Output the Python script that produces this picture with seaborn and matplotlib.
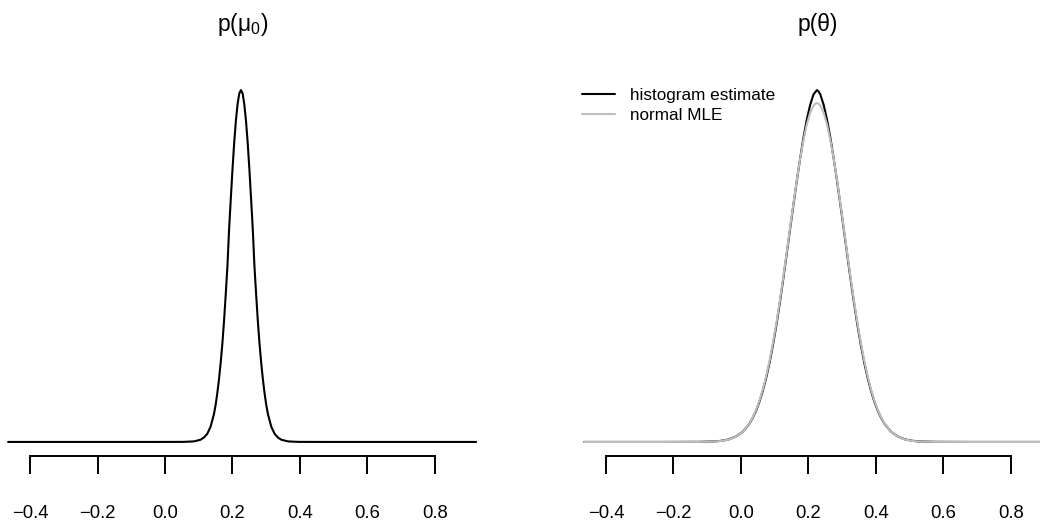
import matplotlib
matplotlib.use("Agg")
import matplotlib.pyplot as plt
import seaborn as sns

# p(mu0) density
mu0_x = [-0.465, -0.025, 0.055, 0.085, 0.105, 0.115, 0.125, 0.135, 0.145, 0.150,
         0.155, 0.160, 0.165, 0.170, 0.175, 0.180, 0.185, 0.190, 0.195, 0.200,
         0.205, 0.210, 0.215, 0.220, 0.225, 0.230, 0.235, 0.240, 0.245, 0.250,
         0.255, 0.260, 0.265, 0.270, 0.275, 0.280, 0.285, 0.290, 0.295, 0.300,
         0.305, 0.315, 0.325, 0.335, 0.345, 0.365, 0.395, 0.475, 0.922]
mu0_dens = [0, 0, 0.002, 0.017, 0.07, 0.14, 0.26, 0.49, 0.90, 1.20,
            1.58, 2.03, 2.57, 3.19, 3.93, 4.79, 5.70, 6.91, 7.89, 8.84,
            9.69, 10.40, 10.94, 11.29, 11.40, 11.29, 10.94, 10.40, 9.69, 8.84,
            7.89, 6.91, 5.70, 4.79, 3.93, 3.19, 2.57, 2.03, 1.58, 1.20,
            0.90, 0.49, 0.26, 0.14, 0.07, 0.017, 0.002, 0, 0]

# p(theta): histogram estimate (black) and normal MLE (grey)
theta_x = [-0.465, -0.225, -0.125, -0.075, -0.055, -0.035, -0.015, 0.005, 0.025, 0.035,
           0.045, 0.055, 0.065, 0.075, 0.085, 0.095, 0.105, 0.115, 0.125, 0.135,
           0.145, 0.155, 0.165, 0.175, 0.185, 0.195, 0.205, 0.215, 0.220, 0.225,
           0.230, 0.235, 0.245, 0.255, 0.265, 0.275, 0.285, 0.295, 0.305, 0.315,
           0.325, 0.335, 0.345, 0.355, 0.365, 0.375, 0.385, 0.395, 0.405, 0.415,
           0.425, 0.445, 0.465, 0.485, 0.505, 0.525, 0.575, 0.675, 0.922]
hist_dens = [0, 0, 0.0015, 0.008, 0.018, 0.038, 0.076, 0.143, 0.259, 0.343,
             0.447, 0.575, 0.73, 0.915, 1.13, 1.38, 1.66, 1.97, 2.30, 2.65,
             3.00, 3.35, 3.69, 4.01, 4.31, 4.57, 4.78, 4.93, 4.96, 4.99,
             4.97, 4.93, 4.78, 4.57, 4.31, 4.01, 3.69, 3.35, 3.00, 2.65,
             2.30, 1.97, 1.66, 1.38, 1.13, 0.915, 0.73, 0.575, 0.447, 0.343,
             0.259, 0.143, 0.076, 0.038, 0.018, 0.008, 0.0015, 0, 0]
mle_dens = [0, 0, 0.001, 0.007, 0.016, 0.036, 0.074, 0.143, 0.263, 0.350,
            0.458, 0.590, 0.750, 0.939, 1.159, 1.410, 1.690, 1.997, 2.326, 2.670,
            3.021, 3.368, 3.701, 4.008, 4.277, 4.502, 4.669, 4.771, 4.797, 4.806,
            4.797, 4.771, 4.669, 4.502, 4.277, 4.008, 3.701, 3.368, 3.021, 2.670,
            2.326, 1.997, 1.690, 1.410, 1.159, 0.939, 0.750, 0.590, 0.458, 0.350,
            0.263, 0.143, 0.074, 0.036, 0.016, 0.007, 0.001, 0, 0]

ticks = [-0.4, -0.2, 0.0, 0.2, 0.4, 0.6, 0.8]
tick_labels = ["\u22120.4", "\u22120.2", "0.0", "0.2", "0.4", "0.6", "0.8"]

sns.set_style("white")
plt.rcParams["font.family"] = ["Liberation Sans", "DejaVu Sans"]
plt.rcParams["mathtext.fontset"] = "custom"
plt.rcParams["mathtext.rm"] = "Liberation Sans"
plt.rcParams["mathtext.it"] = "Liberation Sans"
plt.rcParams["mathtext.bf"] = "Liberation Sans:bold"
plt.rcParams["text.color"] = "black"

fig = plt.figure(figsize=(10.4, 5.25), dpi=100)
ax1 = fig.add_axes([0, 0.1314, 494.9 / 1040, 0.7238])
ax2 = fig.add_axes([565.3 / 1040, 0.1314, (1040 - 565.3) / 1040, 0.7238])

sns.lineplot(x=mu0_x, y=mu0_dens, ax=ax1, color="black", linewidth=1.5)
sns.lineplot(x=theta_x, y=hist_dens, ax=ax2, color="black", linewidth=1.5,
             label="histogram estimate")
sns.lineplot(x=theta_x, y=mle_dens, ax=ax2, color="#BEBEBE", linewidth=1.5,
             label="normal MLE")

ax1.set_xlim(-0.4889, 0.9775)
ax2.set_xlim(-0.5205, 0.886)
ax1.set_ylim(-0.04 * max(mu0_dens), 1.04 * max(mu0_dens))
ax2.set_ylim(-0.04 * max(hist_dens), 1.04 * max(hist_dens))

for ax in (ax1, ax2):
    ax.set_xlabel("")
    ax.set_ylabel("")
    ax.set_yticks([])
    for s in ("top", "right", "left"):
        ax.spines[s].set_visible(False)
    ax.spines["bottom"].set_bounds(-0.4, 0.8)
    ax.spines["bottom"].set_linewidth(1.4)
    ax.spines["bottom"].set_color("black")
    ax.set_xticks(ticks)
    ax.set_xticklabels(tick_labels)
    ax.tick_params(axis="x", direction="out", length=13, width=1.4,
                   pad=22, labelsize=13.3, colors="black", bottom=True)
    ax.patch.set_alpha(0)

leg = ax2.legend(loc="upper left", bbox_to_anchor=(582 / 1040, 1 - 88 / 525),
                 bbox_transform=fig.transFigure, frameon=False, fontsize=12.3,
                 handlelength=1.93, handletextpad=0.88, labelspacing=0.30,
                 borderpad=0, borderaxespad=0)
for t in leg.get_texts():
    t.set_color("black")

fig.text(243 / 1040, 1 - 24 / 525, r"p($\mu_0$)", ha="center", va="center",
         fontsize=16.5, color="black")
fig.text(817.5 / 1040, 1 - 24 / 525, "p(\u03b8)", ha="center", va="center",
         fontsize=16.5, color="black")

fig.savefig("out.png", dpi=100)
